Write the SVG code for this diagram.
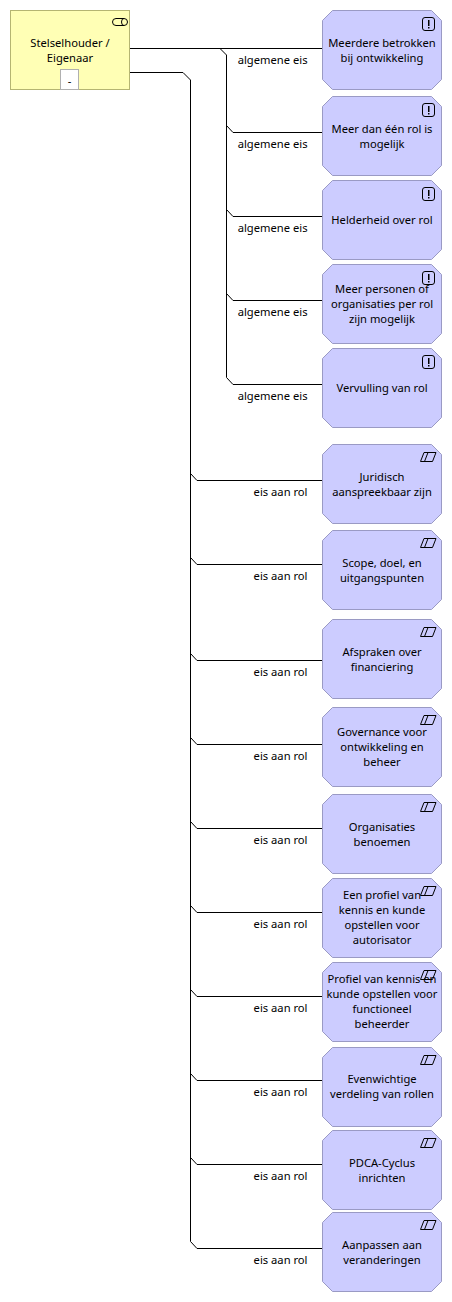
<svg xmlns="http://www.w3.org/2000/svg" width="452" height="1302" viewBox="0 0 452 1302">
<style>
text{font-family:"Noto Sans","Open Sans","Liberation Sans",sans-serif;font-size:11.2px;fill:#000;text-anchor:middle}
.lab{text-anchor:end}
.oct{fill:#ccccff;stroke:#9a9ac4;stroke-width:1}
.ic{fill:none;stroke:#000;stroke-width:1}
.conn{fill:none;stroke:#000;stroke-width:1}
</style>
<defs>
<polygon id="oct" class="oct" points="10.5,0.5 109.5,0.5 119.5,10.5 119.5,69.5 109.5,79.5 10.5,79.5 0.5,69.5 0.5,10.5"/>
<g id="warn"><rect class="ic" x="100.5" y="7.5" width="12" height="13" rx="2.5"/><rect x="106" y="10" width="1.500" height="6" fill="#000"/><rect x="106" y="17" width="1.500" height="1.500" fill="#000"/></g>
<path id="para" class="ic" d="M98.500 17.500L102 8.500H114L110.500 17.500ZM102.500 17.500L106 8.500"/>
</defs>
<g id="connectors" class="conn">
<path d="M130 48.500H322M220 48.500L226.500 55V377.500L233 384.500H322"/>
<path d="M226.500 125.500L233 132.500H322M226.500 209.500L233 216.500H322M226.500 293.500L233 300.500H322"/>
<path d="M130 72.500H183L190.500 80V1241.500L197 1248.500H322"/>
<path d="M190.500 473.500L197 480.500H322M190.500 557.500L197 564.500H322M190.500 653.500L197 660.500H322M190.500 737.500L197 744.500H322M190.500 821.500L197 828.500H322M190.500 905.500L197 912.500H322M190.500 989.500L197 996.500H322M190.500 1073.500L197 1080.500H322M190.500 1157.500L197 1164.500H322"/>
</g>
<g id="labels">
<text class="lab" x="307.500" y="64">algemene eis</text>
<text class="lab" x="307.500" y="148">algemene eis</text>
<text class="lab" x="307.500" y="232">algemene eis</text>
<text class="lab" x="307.500" y="316">algemene eis</text>
<text class="lab" x="307.500" y="400">algemene eis</text>
<text class="lab" x="307.500" y="496">eis aan rol</text>
<text class="lab" x="307.500" y="580">eis aan rol</text>
<text class="lab" x="307.500" y="676">eis aan rol</text>
<text class="lab" x="307.500" y="760">eis aan rol</text>
<text class="lab" x="307.500" y="844">eis aan rol</text>
<text class="lab" x="307.500" y="928">eis aan rol</text>
<text class="lab" x="307.500" y="1012">eis aan rol</text>
<text class="lab" x="307.500" y="1096">eis aan rol</text>
<text class="lab" x="307.500" y="1180">eis aan rol</text>
<text class="lab" x="307.500" y="1264">eis aan rol</text>
</g>
<g id="actor">
<rect x="10.500" y="10.500" width="119" height="79" fill="#ffffb5" stroke="#b5b572"/>
<rect x="112.500" y="18.500" width="15" height="7" rx="3.500" fill="none" stroke="#000"/>
<path d="M124 18.500A2.500 3.500 0 0 0 124 25.500" fill="none" stroke="#000"/>
<text x="70" y="47">Stelselhouder /</text>
<text x="70" y="62">Eigenaar</text>
<rect x="60.500" y="69.500" width="18" height="20" fill="#fff" stroke="#b0b0b0"/>
<text x="69.500" y="85">-</text>
</g>
<g id="n1" transform="translate(322 10)"><use href="#oct"/><use href="#warn"/><text x="60" y="37">Meerdere betrokken</text><text x="60" y="52">bij ontwikkeling</text></g>
<g id="n2" transform="translate(322 96)"><use href="#oct"/><use href="#warn"/><text x="60" y="37">Meer dan één rol is</text><text x="60" y="52">mogelijk</text></g>
<g id="n3" transform="translate(322 180)"><use href="#oct"/><use href="#warn"/><text x="60" y="44">Helderheid over rol</text></g>
<g id="n4" transform="translate(322 264)"><use href="#oct"/><use href="#warn"/><text x="60" y="29">Meer personen of</text><text x="60" y="44">organisaties per rol</text><text x="60" y="59">zijn mogelijk</text></g>
<g id="n5" transform="translate(322 348)"><use href="#oct"/><use href="#warn"/><text x="60" y="44">Vervulling van rol</text></g>
<g id="n6" transform="translate(322 444)"><use href="#oct"/><use href="#para"/><text x="60" y="37">Juridisch</text><text x="60" y="52">aanspreekbaar zijn</text></g>
<g id="n7" transform="translate(322 530)"><use href="#oct"/><use href="#para"/><text x="60" y="37">Scope, doel, en</text><text x="60" y="52">uitgangspunten</text></g>
<g id="n8" transform="translate(322 619)"><use href="#oct"/><use href="#para"/><text x="60" y="37">Afspraken over</text><text x="60" y="52">financiering</text></g>
<g id="n9" transform="translate(322 707)"><use href="#oct"/><use href="#para"/><text x="60" y="29">Governance voor</text><text x="60" y="44">ontwikkeling en</text><text x="60" y="59">beheer</text></g>
<g id="n10" transform="translate(322 794)"><use href="#oct"/><use href="#para"/><text x="60" y="37">Organisaties</text><text x="60" y="52">benoemen</text></g>
<g id="n11" transform="translate(322 878)"><use href="#oct"/><use href="#para"/><text x="60" y="21">Een profiel van</text><text x="60" y="36">kennis en kunde</text><text x="60" y="51">opstellen voor</text><text x="60" y="66">autorisator</text></g>
<g id="n12" transform="translate(322 962)"><use href="#oct"/><use href="#para"/><text x="60" y="21">Profiel van kennis en</text><text x="60" y="36">kunde opstellen voor</text><text x="60" y="51">functioneel</text><text x="60" y="66">beheerder</text></g>
<g id="n13" transform="translate(322 1047)"><use href="#oct"/><use href="#para"/><text x="60" y="36">Evenwichtige</text><text x="60" y="51">verdeling van rollen</text></g>
<g id="n14" transform="translate(322 1130)"><use href="#oct"/><use href="#para"/><text x="60" y="37">PDCA-Cyclus</text><text x="60" y="52">inrichten</text></g>
<g id="n15" transform="translate(322 1212)"><use href="#oct"/><use href="#para"/><text x="60" y="37">Aanpassen aan</text><text x="60" y="52">veranderingen</text></g>
</svg>
